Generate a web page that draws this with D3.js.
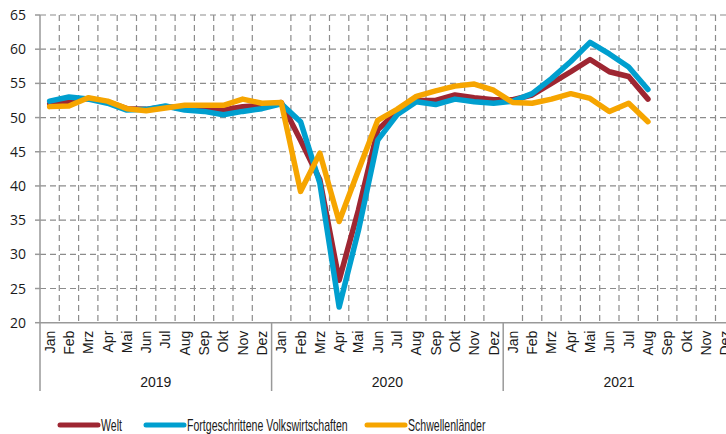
<!DOCTYPE html>
<html>
<head>
<meta charset="utf-8">
<script src="https://cdn.jsdelivr.net/npm/d3@7"></script>
<style>
  body { margin: 0; background: #fff; }
  text { font-family: "Liberation Sans", Arial, sans-serif; fill: #1a1a1a; }
</style>
</head>
<body>
<div id="chart"></div>
<script>
var monthNames = ['Jan','Feb','Mrz','Apr','Mai','Jun','Jul','Aug','Sep','Okt','Nov','Dez'];
var years = ['2019','2020','2021'];
var yTicks = [20,25,30,35,40,45,50,55,60,65];

// Einkaufsmanagerindex, Jan 2019 - Aug 2021
var welt = [52.0,52.4,52.8,52.3,51.3,51.2,51.6,51.4,51.3,51.1,51.6,51.8,
            52.2,46.7,40.9,26.2,36.5,48.2,50.9,52.5,52.5,53.3,52.9,52.6,
            52.6,53.3,55.0,56.7,58.5,56.7,56.0,52.7];
var fortgeschritten = [52.4,53.0,52.7,52.1,51.1,51.2,51.7,51.1,50.9,50.4,50.9,51.3,
            52.0,49.4,40.4,22.3,33.5,46.7,50.4,52.3,51.9,52.7,52.3,52.1,
            52.4,53.5,55.7,58.2,61.0,59.3,57.4,54.1];
var schwellen = [51.6,51.7,52.9,52.4,51.3,51.0,51.4,51.8,51.8,51.8,52.7,52.1,
            52.2,39.2,44.8,34.8,42.3,49.6,51.2,53.1,53.9,54.6,54.9,54.0,
            52.2,52.1,52.7,53.5,52.8,50.9,52.1,49.4];

var series = [
  {name: 'Welt', values: welt, color: '#9e2632'},
  {name: 'Fortgeschrittene Volkswirtschaften', values: fortgeschritten, color: '#009fcf'},
  {name: 'Schwellenländer', values: schwellen, color: '#f6a500'}
];

var width = 726, height = 434;
var mLeft = 40, mTop = 15, axisY = 322.7, bandW = 19.3;

var months = [];
years.forEach(function(yr) { monthNames.forEach(function(m) { months.push(yr + '-' + m); }); });

var svg = d3.select('#chart').append('svg')
  .attr('width', width).attr('height', height);

var x = d3.scaleBand().domain(months).range([mLeft, mLeft + months.length * bandW]).padding(0);
var y = d3.scaleLinear().domain([20, 65]).range([axisY, mTop]);

var grid = svg.append('g');
// horizontal grid
grid.selectAll('.hg').data(yTicks.filter(function(d) { return d > 20; }))
  .enter().append('line')
  .attr('x1', mLeft).attr('x2', width)
  .attr('y1', function(d) { return y(d); }).attr('y2', function(d) { return y(d); })
  .attr('stroke', '#8c8c8c').attr('stroke-width', 1.2).attr('stroke-dasharray', '6,4');
// vertical grid at month boundaries
grid.selectAll('.vg').data(months.filter(function(d, i) { return i % 12 != 0; }))
  .enter().append('line')
  .attr('x1', function(d) { return x(d); }).attr('x2', function(d) { return x(d); })
  .attr('y1', mTop).attr('y2', axisY)
  .attr('stroke', '#8c8c8c').attr('stroke-width', 1.2).attr('stroke-dasharray', '6,4');

// y axis
svg.append('line').attr('x1', mLeft).attr('x2', mLeft).attr('y1', mTop).attr('y2', 391)
  .attr('stroke', '#999').attr('stroke-width', 1.5);
svg.selectAll('.ytick').data(yTicks).enter().append('line')
  .attr('x1', mLeft - 5).attr('x2', mLeft)
  .attr('y1', function(d) { return y(d); }).attr('y2', function(d) { return y(d); })
  .attr('stroke', '#999').attr('stroke-width', 1.5);
svg.selectAll('.ylab').data(yTicks).enter().append('text')
  .attr('x', 26).attr('y', function(d) { return y(d) + 5; })
  .attr('text-anchor', 'end').style('font-size', '14px')
  .style('font-family', '"Open Sans", sans-serif')
  .text(function(d) { return d; });

// x axis
svg.append('line').attr('x1', mLeft).attr('x2', width).attr('y1', axisY).attr('y2', axisY)
  .attr('stroke', '#999').attr('stroke-width', 1.5);
svg.selectAll('.ysep').data(years.slice(1)).enter().append('line')
  .attr('x1', function(d) { return x(d + '-Jan'); }).attr('x2', function(d) { return x(d + '-Jan'); })
  .attr('y1', axisY).attr('y2', 391)
  .attr('stroke', '#999').attr('stroke-width', 1.5);

svg.selectAll('.mlab').data(months).enter().append('text')
  .attr('transform', function(d) {
    return 'translate(' + (x(d) + x.bandwidth() / 2 + 5) + ',' + (axisY + 8) + ') rotate(-90)';
  })
  .attr('text-anchor', 'end').style('font-size', '14px')
  .text(function(d) { return d.split('-')[1]; });

svg.selectAll('.ylbl').data(years).enter().append('text')
  .attr('x', function(d) { return x(d + '-Jan') + 6 * bandW; })
  .attr('y', 387).attr('text-anchor', 'middle').style('font-size', '14px')
  .text(function(d) { return d; });

// lines
var line = d3.line()
  .x(function(d, i) { return x(months[i]) + x.bandwidth() / 2; })
  .y(function(d) { return y(d); });

svg.selectAll('.series').data(series).enter().append('path')
  .attr('d', function(d) { return line(d.values); })
  .attr('fill', 'none')
  .attr('stroke', function(d) { return d.color; })
  .attr('stroke-width', 5.5)
  .attr('stroke-linejoin', 'round')
  .attr('stroke-linecap', 'round');

// legend
var legendX = [60, 146, 367];
var leg = svg.selectAll('.leg').data(series).enter().append('g')
  .attr('transform', function(d, i) { return 'translate(' + legendX[i] + ',425)'; });
leg.append('line').attr('x1', 0).attr('x2', 38).attr('y1', 0).attr('y2', 0)
  .attr('stroke', function(d) { return d.color; }).attr('stroke-width', 5)
  .attr('stroke-linecap', 'round');
leg.append('text').attr('transform', 'translate(41,5.5) scale(0.66,1)')
  .style('font-size', '16px')
  .text(function(d) { return d.name; });
</script>
</body>
</html>
